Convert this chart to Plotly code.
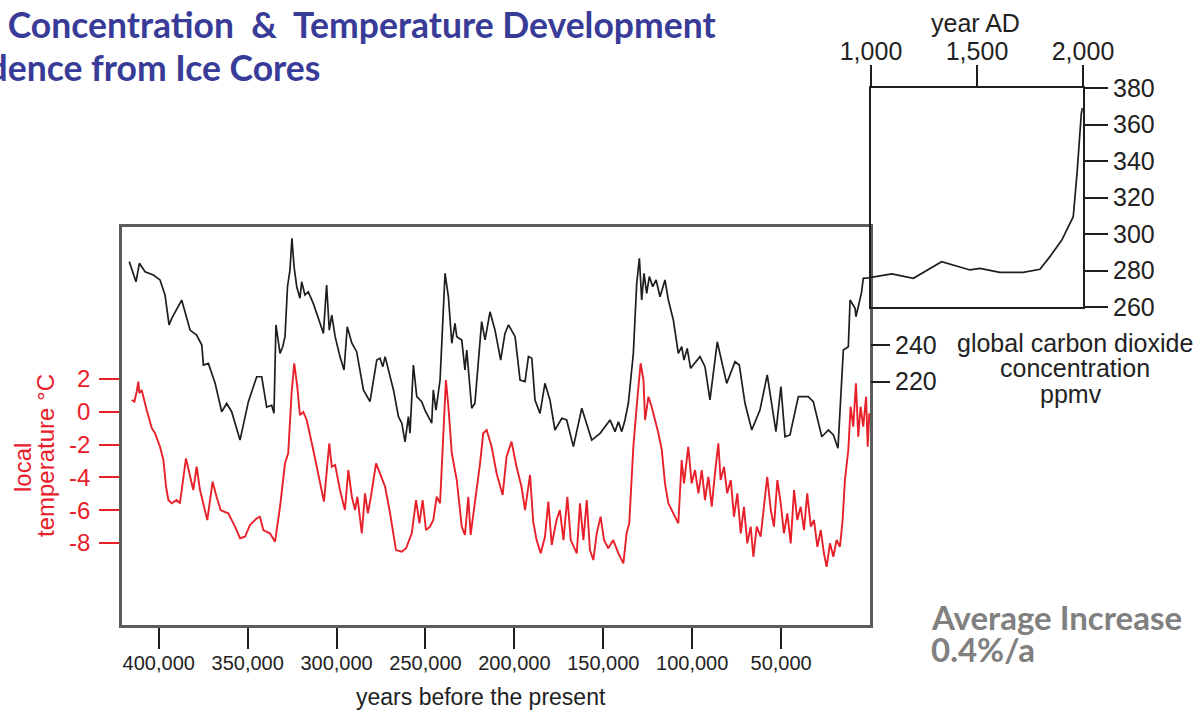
import plotly.graph_objects as go

W, H = 1197, 711

# ---- Vostok ice core CO2 (years before present, ppmv) ----
co2_age = [416600, 412800, 410900, 407700, 403000, 399300, 396500, 394200, 392700, 387100,
           382400, 378700, 375800, 374900, 372100, 368300, 364600, 361800, 359000, 354300,
           349600, 344900, 342100, 339300, 336500, 335200, 334100, 331800, 330300, 329000,
           327600, 326200, 325100, 323900, 322400, 320600, 319600, 317800, 315900, 313100,
           309300, 307400, 305600, 304100, 302700, 300800, 298100, 295800, 294000, 291400,
           288700, 284900, 281200, 277400, 275600, 274000, 272700, 268000, 265200, 263300,
           261500, 259600, 258700, 256800, 254900, 252100, 250300, 246500, 245600, 244100,
           241800, 239000, 237100, 235200, 233400, 232400, 229600, 227800, 226800, 225900,
           224000, 222200, 218400, 216500, 213700, 210900, 207700, 205300, 203300, 199600,
           196800, 194000, 192100, 190200, 188400, 185600, 182800, 180000, 177200, 173300,
           170600, 166800, 162100, 156500, 151800, 146200, 143400, 141500, 139600, 137800,
           135900, 133100, 131200, 129700, 128400, 127100, 125600, 124100, 122200, 120300,
           118100, 115300, 113400, 110600, 107800, 105900, 104600, 102800, 100900, 95600,
           92800, 90000, 85900, 80600, 75900, 73500, 70300, 66500, 61900, 57800,
           52900, 50100, 47800, 45000, 40300, 34700, 31900, 27100, 23400, 20600,
           18000, 15000, 12200, 11200, 8400, 7900, 5600, 4700, 3800, 0]
co2_ppm = [285.5, 274.5, 284.6, 280.0, 278.2, 275.5, 267.3, 250.9, 254.5, 264.5,
           248.1, 245.4, 239.9, 229.0, 229.9, 219.0, 203.5, 208.0, 203.5, 188.0,
           209.0, 222.6, 222.6, 206.0, 207.0, 202.6, 250.9, 235.4, 239.0, 244.5,
           271.8, 281.0, 298.3, 282.7, 271.8, 265.5, 274.5, 267.3, 269.0, 262.7,
           251.8, 246.3, 272.7, 248.1, 256.3, 244.5, 233.6, 226.3, 249.9, 240.9,
           236.3, 215.4, 209.0, 231.7, 232.7, 228.1, 233.6, 215.4, 200.8, 197.2,
           187.0, 200.8, 191.7, 229.0, 211.7, 209.0, 204.4, 197.2, 215.4, 204.4,
           220.8, 279.1, 266.3, 240.9, 251.8, 244.5, 242.7, 226.3, 237.2, 226.3,
           205.4, 208.1, 252.7, 242.7, 258.1, 248.1, 231.7, 246.3, 250.9, 244.5,
           220.8, 219.9, 233.6, 232.7, 209.9, 202.6, 219.0, 209.9, 193.5, 199.9,
           199.0, 184.4, 205.4, 188.0, 191.7, 199.0, 192.6, 198.0, 192.6, 199.0,
           208.1, 235.4, 273.7, 287.3, 264.5, 279.1, 268.2, 277.3, 271.8, 275.5,
           266.3, 275.5, 264.5, 253.6, 235.4, 239.0, 231.7, 238.1, 227.2, 233.6,
           228.1, 209.9, 241.7, 219.0, 230.8, 229.0, 208.1, 193.5, 204.4, 223.6,
           192.6, 217.2, 189.8, 190.8, 211.7, 211.7, 209.0, 189.8, 193.5, 190.8,
           183.5, 237.2, 239.0, 264.5, 260.0, 255.4, 264.5, 269.0, 276.4, 276.7]

# ---- local temperature anomaly (years before present, deg C) ----
temp_age = [415200, 413700, 412400, 411500, 410900, 409600, 406800, 403900, 402100, 399300,
            397400, 395900, 394600, 392700, 389900, 388100, 384700, 382800, 380600, 378700,
            376800, 372700, 369700, 367500, 365200, 363300, 360900, 357100, 354300, 351500,
            348700, 344900, 343100, 341200, 337500, 334600, 331800, 329000, 327200, 325300,
            323800, 322100, 320600, 318700, 316800, 313100, 310300, 307100, 304100, 302700,
            300800, 298100, 295300, 293400, 291400, 289600, 288300, 285800, 284000, 282400,
            280700, 277800, 275600, 272700, 269900, 266600, 263300, 260900, 257700, 255300,
            253400, 251600, 249700, 247500, 245600, 243700, 241800, 238500, 237100, 235200,
            232400, 229600, 227800, 225900, 224600, 222200, 219300, 217500, 215600, 212800,
            210000, 206600, 204400, 201600, 198800, 196000, 194000, 191200, 189400, 187500,
            185200, 182800, 180900, 179000, 176300, 174400, 172400, 170200, 168300, 164900,
            163100, 161200, 159300, 157500, 155600, 153700, 151500, 149600, 147200, 144400,
            141500, 138700, 136900, 135400, 133100, 130900, 129000, 127400, 126500, 124600,
            122800, 120900, 119000, 117100, 115300, 113400, 110600, 107800, 105900, 104600,
            102200, 100300, 98400, 96500, 94600, 92800, 90900, 89000, 87200, 85300,
            84000, 82100, 80300, 78300, 76500, 74600, 72700, 70900, 69000, 67100,
            65600, 63700, 61500, 59600, 57800, 55800, 54000, 52100, 50200, 48400,
            46500, 44600, 42700, 40900, 39000, 37100, 35300, 33300, 31500, 29600,
            27700, 25900, 24400, 22500, 20600, 18800, 16900, 15400, 14100, 12200,
            10900, 9400, 7900, 6600, 5300, 3800, 2200, 1300, 400]
temp_c = [0.72, 0.62, 1.23, 1.84, 1.13, 1.33, 0.11, -1.00, -1.31, -2.13,
          -2.94, -4.57, -5.38, -5.58, -5.38, -5.58, -2.84, -3.75, -4.77, -3.35,
          -4.77, -6.60, -4.26, -5.18, -5.99, -6.09, -6.19, -7.00, -7.71, -7.62,
          -6.90, -6.49, -6.40, -7.21, -7.41, -7.92, -5.79, -3.14, -2.53, 1.13,
          2.96, 1.53, -0.20, 0.00, -0.50, -2.33, -3.75, -5.48, -1.92, -3.35,
          -3.24, -4.77, -5.99, -3.55, -5.18, -5.99, -5.18, -7.41, -4.97, -6.19,
          -5.18, -3.14, -3.75, -4.57, -6.19, -8.43, -8.53, -8.32, -7.41, -5.38,
          -6.80, -5.38, -7.21, -7.00, -6.60, -5.18, -5.58, 1.94, 0.31, -2.53,
          -4.16, -7.00, -7.51, -5.18, -7.51, -5.58, -3.14, -1.31, -1.11, -2.13,
          -3.75, -5.07, -2.74, -1.82, -3.35, -4.57, -5.99, -3.85, -6.70, -7.82,
          -8.63, -7.62, -5.48, -8.12, -6.60, -5.99, -7.82, -5.18, -7.82, -8.63,
          -5.58, -7.82, -5.38, -8.43, -9.04, -7.41, -6.40, -7.82, -8.32, -7.82,
          -8.63, -9.24, -7.41, -6.80, -2.13, 0.72, 2.96, 1.94, -0.50, 0.92,
          0.31, -0.50, -1.31, -2.33, -4.36, -5.58, -6.19, -6.80, -2.94, -4.36,
          -2.13, -4.36, -3.55, -4.97, -3.55, -5.38, -3.96, -5.79, -3.75, -1.92,
          -4.16, -3.35, -4.97, -4.16, -6.40, -4.97, -7.41, -5.79, -8.02, -7.00,
          -8.84, -7.00, -7.62, -5.79, -3.96, -5.99, -7.00, -4.16, -5.58, -7.41,
          -6.19, -8.02, -4.77, -6.60, -5.79, -7.21, -4.97, -7.00, -6.60, -8.23,
          -7.21, -8.63, -9.45, -8.02, -8.84, -7.82, -8.23, -6.60, -4.16, -2.33,
          0.31, -0.91, 1.74, -1.52, 0.31, -0.91, 0.92, -2.13, -0.09]

# ---- last millennium CO2 (year AD, ppmv) ----
ad_year = [1000, 1098, 1200, 1333, 1467, 1514, 1608, 1718, 1797, 1844, 1900, 1954, 1973, 1982, 1992, 1997]
ad_ppm = [276.2, 278.1, 275.7, 284.8, 280.3, 281.2, 279.0, 279.0, 280.7, 287.6, 296.7, 309.5, 335.0, 353.0, 366.0, 369.0]

age_ticks = [400000, 350000, 300000, 250000, 200000, 150000, 100000, 50000]
age_labels = ["400,000", "350,000", "300,000", "250,000", "200,000", "150,000", "100,000", "50,000"]
temp_ticks = [2, 0, -2, -4, -6, -8]
temp_labels = ["2", "0", "-2", "-4", "-6", "-8"]
co2_low_ticks = [240, 220]
ad_ticks = [1000, 1500, 2000]
ad_labels = ["1,000", "1,500", "2,000"]

RED = "#e8202a"
INK = "#1e1e1e"
FRAME = "#5c5c5c"
SANS = "Liberation Sans, Arial, sans-serif"


def fx(p):
    return p / W


def fy(p):
    return 1 - p / H


fig = go.Figure()
fig.add_trace(go.Scatter(x=temp_age, y=temp_c, mode="lines", xaxis="x", yaxis="y",
                         line=dict(color=RED, width=1.9), hoverinfo="skip"))
fig.add_trace(go.Scatter(x=co2_age, y=co2_ppm, mode="lines", xaxis="x", yaxis="y2",
                         line=dict(color=INK, width=1.7), hoverinfo="skip"))
fig.add_trace(go.Scatter(x=ad_year, y=ad_ppm, mode="lines", xaxis="x3", yaxis="y3",
                         line=dict(color=INK, width=1.7), hoverinfo="skip"))

# main panel: 0 years at x=870 px, 50,000 years per 88.9 px
x_left_age = (870 - 122) * 562.4
t_lo, t_hi = (411.8 - 625) / 16.4, (411.8 - 227) / 16.4
c_lo, c_hi = 220 - (625 - 381.5) / 1.83, 220 + (381.5 - 227) / 1.83

fig.update_layout(
    width=W, height=H, margin=dict(l=0, r=0, t=0, b=0, autoexpand=False),
    paper_bgcolor="white", plot_bgcolor="white", showlegend=False,
    xaxis=dict(domain=[fx(122), fx(870)], range=[x_left_age, 0], anchor="y", automargin=False,
               tickvals=age_ticks, ticktext=age_labels, ticks="outside", ticklen=21,
               tickwidth=1.6, tickcolor=INK, showline=True, mirror=True, linecolor=FRAME,
               linewidth=2.5, showgrid=False, zeroline=False, ticklabelstandoff=-3,
               tickfont=dict(family=SANS, size=20, color="#222")),
    yaxis=dict(domain=[fy(625), fy(227)], range=[t_lo, t_hi], anchor="x", automargin=False,
               tickvals=temp_ticks, ticktext=temp_labels, ticks="outside", ticklen=20,
               tickwidth=2, tickcolor=RED,
               showline=True, mirror=True, linecolor=FRAME, linewidth=2.5, showgrid=False,
               zeroline=False, ticklabelstandoff=4,
               tickfont=dict(family=SANS, size=24, color=RED)),
    yaxis2=dict(domain=[fy(625), fy(227)], range=[c_lo, c_hi], anchor="x", overlaying="y",
                automargin=False,
                side="right", tickvals=co2_low_ticks, ticks="outside", ticklen=19, tickwidth=2,
                tickcolor=INK, showline=False, showgrid=False, zeroline=False,
                tickfont=dict(family=SANS, size=25, color="#222")),
    xaxis3=dict(domain=[fx(871), fx(1083)], range=[1000, 2000], anchor="y3", side="top",
                automargin=False,
                tickvals=ad_ticks, ticktext=ad_labels, ticks="outside", ticklen=21, tickwidth=2,
                tickcolor=INK, showline=True, mirror=True, linecolor=INK, linewidth=2,
                showgrid=False, zeroline=False, ticklabelstandoff=-5,
                tickfont=dict(family=SANS, size=25, color="#222")),
    yaxis3=dict(domain=[fy(307), fy(88)], range=[260, 380], anchor="x3", side="right",
                automargin=False,
                tickvals=list(range(260, 381, 20)), ticks="outside", ticklen=23, tickwidth=2,
                tickcolor=INK, showline=True, mirror=True, linecolor=INK, linewidth=2,
                showgrid=False, zeroline=False,
                tickfont=dict(family=SANS, size=25, color="#222")),
)

TITLE_BLUE = "#383b97"
notes = [
    dict(text="CO<sub>2</sub> Concentration\u00a0\u00a0&amp;\u00a0\u00a0Temperature Development",
         x=fx(718), y=fy(27), xanchor="right", yanchor="middle",
         font=dict(family="Lato", size=35.5, color=TITLE_BLUE, weight=700)),
    dict(text="Evidence from Ice Cores", x=fx(322), y=fy(67), xanchor="right", yanchor="middle",
         font=dict(family="Lato", size=35.5, color=TITLE_BLUE, weight=700)),
    dict(text="years before the present", x=fx(481), y=fy(697), xanchor="center", yanchor="middle",
         font=dict(family=SANS, size=23, color="#222")),
    dict(text="local", x=fx(23), y=fy(468), textangle=-90, xanchor="center", yanchor="middle",
         font=dict(family=SANS, size=24, color=RED)),
    dict(text="temperature °C", x=fx(45), y=fy(456), textangle=-90, xanchor="center",
         yanchor="middle", font=dict(family=SANS, size=24, color=RED)),
    dict(text="year AD", x=fx(975), y=fy(23), xanchor="center", yanchor="middle",
         font=dict(family=SANS, size=25, color="#222")),
    dict(text="global carbon dioxide", x=fx(1075), y=fy(343), xanchor="center", yanchor="middle",
         font=dict(family=SANS, size=25, color="#222")),
    dict(text="concentration", x=fx(1075), y=fy(368), xanchor="center", yanchor="middle",
         font=dict(family=SANS, size=25, color="#222")),
    dict(text="ppmv", x=fx(1071), y=fy(394), xanchor="center", yanchor="middle",
         font=dict(family=SANS, size=25, color="#222")),
    dict(text="Average Increase", x=fx(929), y=fy(617), xanchor="left", yanchor="middle",
         font=dict(family="Lato", size=33, color="#808080", weight=700)),
    dict(text="0.4%/a", x=fx(929), y=fy(649), xanchor="left", yanchor="middle",
         font=dict(family="Lato", size=33, color="#808080", weight=700)),
]
for n in notes:
    fig.add_annotation(xref="paper", yref="paper", showarrow=False, **n)

fig.write_html("out.html")
